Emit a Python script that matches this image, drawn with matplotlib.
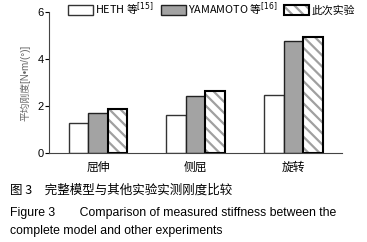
import matplotlib.pyplot as plt
from matplotlib.legend_handler import HandlerTuple
import numpy as np

plt.rcParams['font.family'] = ['Liberation Sans', 'Noto Sans CJK SC', 'DejaVu Sans']
plt.rcParams['hatch.linewidth'] = 1.6

categories = ['屈伸', '侧屈', '旋转']
heth = [1.27, 1.60, 2.45]
yamamoto = [1.72, 2.42, 4.76]
current = [1.88, 2.65, 4.92]
series_labels = ['HETH 等$^{[15]}$', 'YAMAMOTO 等$^{[16]}$', '此次实验']
yticks = [0, 2, 4, 6]

fig = plt.figure(figsize=(3.67, 2.42), dpi=100)
ax = fig.add_axes([0.1335, 0.368, 0.799, 0.582])

x = np.arange(len(categories))
w = 0.2
b1 = ax.bar(x - w, heth, w, color='white', edgecolor='#333333', linewidth=1.0)
b2 = ax.bar(x, yamamoto, w, color='#a3a3a3', edgecolor='#222222', linewidth=1.0)
# hatch in grey, outline drawn separately in black
b3h = ax.bar(x + w, current, w, color='white', edgecolor='#a0a0a0', linewidth=0, hatch='\\\\\\')
b3o = ax.bar(x + w, current, w, fill=False, edgecolor='black', linewidth=1.5)

ax.set_xlim(-0.5, 2.5)
ax.set_ylim(0, 6)
ax.set_yticks(yticks)
ax.set_yticklabels([str(t) for t in yticks], fontsize=8)
ax.set_xticks(x)
ax.set_xticklabels(categories, fontsize=8.5, family=['Noto Sans CJK SC'])
ax.tick_params(axis='x', length=0, pad=6)
ax.tick_params(axis='y', length=3, width=0.8, pad=1)
for s in ['top', 'right']:
    ax.spines[s].set_visible(False)
ax.spines['left'].set_color('#444444')
ax.spines['bottom'].set_color('#444444')
ax.set_ylabel('平均刚度[N•m/(°)]', fontsize=7, color='#666666', labelpad=5)

leg = ax.legend([b1, b2, (b3h, b3o)], series_labels, ncol=3,
                handler_map={tuple: HandlerTuple(ndivide=1, pad=0)},
                loc='lower right', bbox_to_anchor=(1.06, 0.925), frameon=False,
                prop={'family': ['Noto Sans CJK SC'], 'size': 7.8},
                handlelength=2.3, handleheight=1.1, columnspacing=0.6,
                handletextpad=0.25, borderaxespad=0)

fig.text(0.027, 0.215, '图 3\u3000完整模型与其他实验实测刚度比较', fontsize=9,
         family=['Noto Sans CJK SC'], va='center')
fig.text(0.027, 0.120, 'Figure 3\u2003\u2003Comparison of measured stiffness between the',
         fontsize=8.8, va='center')
fig.text(0.027, 0.045, 'complete model and other experiments', fontsize=8.8, va='center')

fig.savefig('out.png', dpi=100)
